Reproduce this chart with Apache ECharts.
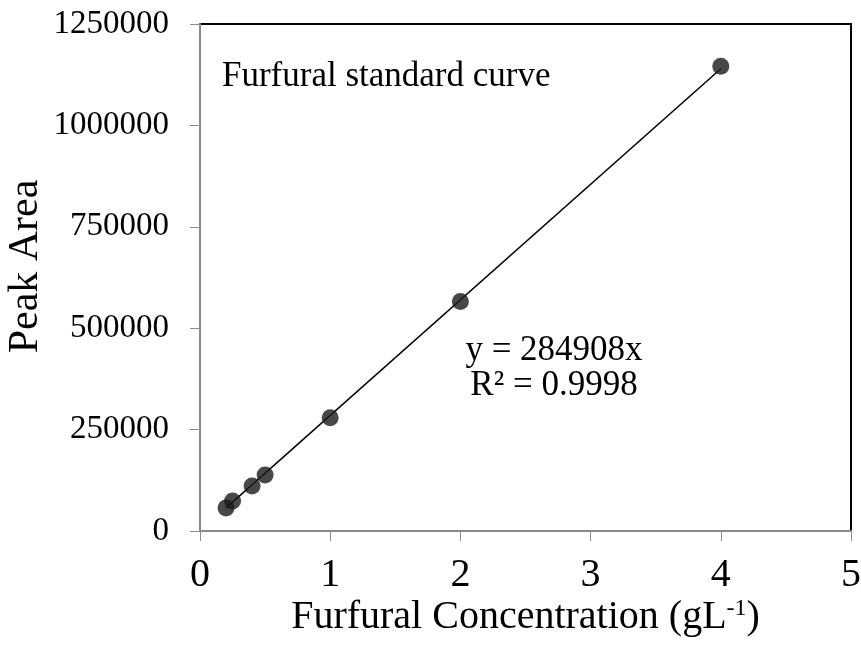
<!DOCTYPE html>
<html><head><meta charset="utf-8">
<script src="https://cdn.jsdelivr.net/npm/echarts@6/dist/echarts.min.js"></script>
<style>html,body{margin:0;padding:0;background:#fff}#c{width:861px;height:645px}</style>
</head><body><div id="c"></div>
<script>
const concentrations = [0.2, 0.25, 0.4, 0.5, 1, 2, 4];
const peakAreas = [57000, 74000, 111000, 138000, 279000, 566000, 1146000];
const trendSlope = 284908;
const rSquared = '0.9998';
const xTicks = [0, 1, 2, 3, 4, 5];
const yTicks = [0, 250000, 500000, 750000, 1000000, 1250000];

const font = '"Liberation Serif", "Times New Roman", serif';
const xMin = Math.min(...concentrations), xMax = Math.max(...concentrations);
const trend = [[xMin, trendSlope * xMin], [xMax, trendSlope * xMax]];

const chart = echarts.init(document.getElementById('c'));
chart.setOption({
  animation: false,
  backgroundColor: '#fff',
  grid: {left: 200, right: 10, top: 24, bottom: 114, show: true, borderColor: '#000', borderWidth: 2,
         backgroundColor: 'transparent', containLabel: false, outerBoundsMode: 'none'},
  xAxis: {
    type: 'value', min: xTicks[0], max: xTicks[xTicks.length-1], interval: 1,
    axisLine: {show: true, lineStyle: {color: '#8a8a8a', width: 2}},
    axisTick: {show: true, inside: false, length: 10, lineStyle: {color: '#8a8a8a', width: 1}},
    splitLine: {show: false},
    axisLabel: {color: '#000', fontFamily: font, fontSize: 40, margin: 24, formatter: v => String(v)},
    name: '{a|Furfural Concentration (gL}{s|-1}{a|)}',
    nameLocation: 'middle', nameGap: 66, nameMoveOverlap: false,
    nameTextStyle: {rich: {
      a: {fontFamily: font, fontSize: 40, color: '#000'},
      s: {fontFamily: font, fontSize: 24, color: '#000', verticalAlign: 'top', padding: [0,0,16,0]}
    }}
  },
  yAxis: {
    type: 'value', min: yTicks[0], max: yTicks[yTicks.length-1], interval: 250000,
    axisLine: {show: true, lineStyle: {color: '#8a8a8a', width: 2}},
    axisTick: {show: true, inside: false, length: 10, lineStyle: {color: '#8a8a8a', width: 1}},
    splitLine: {show: false},
    axisLabel: {color: '#000', fontFamily: font, fontSize: 33, margin: 31, formatter: v => String(v)},
    name: 'Peak Area', nameLocation: 'middle', nameGap: 153, nameMoveOverlap: false,
    nameTextStyle: {fontFamily: font, fontSize: 42, color: '#000', padding: [0, 0, 0, 22]}
  },
  series: [
    {type: 'line', data: trend, symbol: 'none', lineStyle: {color: '#000', width: 1.5}, z: 2, silent: true},
    {type: 'scatter', data: concentrations.map((x,i)=>[x, peakAreas[i]]), symbol: 'circle', symbolSize: 17,
     itemStyle: {color: '#1a1a1a'}, z: 3}
  ],
  graphic: [
    {type: 'text', x: 222, y: 77, style: {text: 'Furfural standard curve', font: '35px ' + font, fill: '#000', verticalAlign: 'middle'}},
    {type: 'text', x: 554, y: 351, style: {text: 'y = ' + trendSlope + 'x', font: '35px ' + font, fill: '#000', align: 'center', verticalAlign: 'middle'}},
    {type: 'text', x: 554, y: 386, style: {text: 'R² = ' + rSquared, font: '35px ' + font, fill: '#000', align: 'center', verticalAlign: 'middle'}}
  ]
});
</script></body></html>
